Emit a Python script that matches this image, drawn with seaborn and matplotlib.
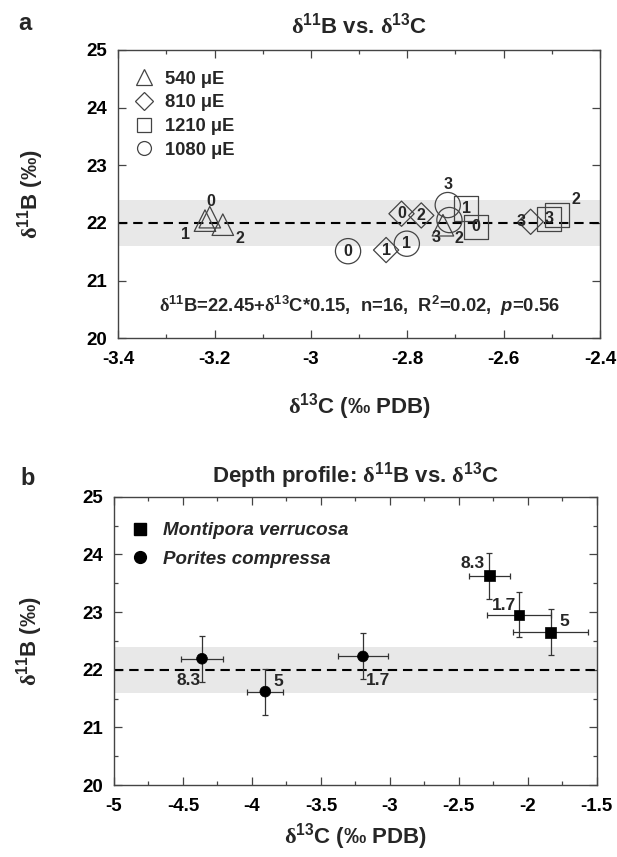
import matplotlib
matplotlib.use("Agg")
import matplotlib.pyplot as plt
from matplotlib.lines import Line2D
from matplotlib.ticker import MultipleLocator
import seaborn as sns
import pandas as pd

# ---------------- data: panel a ----------------
tri_x = [-3.21, -3.22, -3.183, -2.726]
tri_y = [22.10, 22.04, 21.97, 21.96]
dia_x = [-2.812, -2.844, -2.771, -2.544]
dia_y = [22.16, 21.53, 22.13, 22.02]
sq_x = [-2.657, -2.678, -2.49, -2.505]
sq_y = [21.93, 22.25, 22.14, 22.07]
cir_x = [-2.923, -2.801, -2.7125, -2.716]
cir_y = [21.51, 21.64, 22.05, 22.31]
point_ids = ['0', '1', '2', '3']
light_levels = ['540 μE', '810 μE', '1210 μE', '1080 μE']

# ---------------- data: panel b ----------------
mont_x = [-2.278, -2.064, -1.835]
mont_y = [23.63, 22.95, 22.65]
mont_xerr = [0.15, 0.23, 0.27]
mont_yerr = [0.40, 0.39, 0.40]
mont_depth = ['8.3', '1.7', '5']
por_x = [-4.362, -3.903, -3.195]
por_y = [22.19, 21.62, 22.23]
por_xerr = [0.15, 0.13, 0.18]
por_yerr = [0.40, 0.40, 0.40]
por_depth = ['8.3', '5', '1.7']
species = ['Montipora verrucosa', 'Porites compressa']

band_lo, band_hi, ref_line = 21.6, 22.4, 22.0
eq_text = (r'$\mathrm{\delta}^{\mathbf{11}}$B=22.45+$\mathrm{\delta}^{\mathbf{13}}$C*0.15,  '
           r'n=16,  R$^{\mathbf{2}}$=0.02,  $p$=0.56')

# ---------------- style ----------------
sns.set_theme(style="ticks")
plt.rcParams['font.family'] = ['Liberation Sans', 'DejaVu Sans']
plt.rcParams['font.weight'] = 'bold'
plt.rcParams['mathtext.fontset'] = 'custom'
plt.rcParams['mathtext.rm'] = 'Liberation Serif'
plt.rcParams['mathtext.bf'] = 'Liberation Sans:bold'
plt.rcParams['mathtext.it'] = 'Liberation Sans:bold:italic'

EDGE = '#444444'
TICK_FS = 13.5
LABEL_FS = 16
fig = plt.figure(figsize=(6.17, 8.57), dpi=100)
axa = fig.add_axes([0.1917, 0.6053, 0.7807, 0.3364])
axb = fig.add_axes([0.1848, 0.0840, 0.7823, 0.3364])

def style_axes(ax):
    for s in ax.spines.values():
        s.set_color(EDGE)
        s.set_linewidth(1.0)
    ax.tick_params(which='both', direction='in', top=True, right=True,
                   colors=EDGE, labelcolor='black', labelsize=TICK_FS, width=0.9)
    ax.tick_params(which='major', length=5.5)
    ax.tick_params(axis='x', which='major', pad=9)
    ax.tick_params(axis='y', which='major', pad=8)
    ax.tick_params(which='minor', length=3)
    for lab in ax.get_xticklabels() + ax.get_yticklabels():
        lab.set_fontweight('bold')

# ---------------- panel a ----------------
ax = axa
ax.axhspan(band_lo, band_hi, color='#e8e8e8', lw=0, zorder=0)
ax.axhline(ref_line, color='black', ls=(0, (4.5, 2.8)), lw=1.5, zorder=1)

groups = [
    (tri_x, tri_y, '^', 240),
    (dia_x, dia_y, 'D', 165),
    (sq_x, sq_y, 's', 300),
    (cir_x, cir_y, 'o', 330),
]
for (gx, gy, mk, sz), lev in zip(groups, light_levels):
    df = pd.DataFrame({'x': gx, 'y': gy})
    sns.scatterplot(data=df, x='x', y='y', marker=mk, s=sz, facecolor='none',
                    edgecolor=EDGE, linewidth=0.9, ax=ax, zorder=3, legend=False)

# point id labels (offsets in points)
lab_off = {
    0: [(0.5, 11.5), (-14, -10), (12, -10), (-5, -9)],
    1: [(0, 0), (0, 0), (0, 0), (-7, 0)],
    2: [(0, 0), (0, 0), (14, 11), (0, 0)],
    3: [(0, 0), (0, 0), (6.5, -13), (0.5, 14.5)],
}
for gi, (gx, gy, mk, sz) in enumerate(groups):
    for i, (xx, yy) in enumerate(zip(gx, gy)):
        ax.annotate(point_ids[i], (xx, yy), xytext=lab_off[gi][i],
                    textcoords='offset points', ha='center', va='center',
                    fontsize=11.5, fontweight='bold', zorder=5)

ax.set_xlim(-3.4, -2.4)
ax.set_ylim(20, 25)
ax.xaxis.set_minor_locator(MultipleLocator(0.1))
ax.set_xticks([-3.4, -3.2, -3.0, -2.8, -2.6, -2.4])
ax.set_xticklabels(['-3.4', '-3.2', '-3', '-2.8', '-2.6', '-2.4'])
ax.set_yticks([20, 21, 22, 23, 24, 25])
ax.set_yticklabels(['20', '21', '22', '23', '24', '25'])
style_axes(ax)

ax.text(0.5, 0.112, eq_text, transform=ax.transAxes, ha='center', va='center',
        fontsize=13.2, fontweight='bold')
ax.set_xlabel(r'$\mathrm{\delta}^{\mathbf{13}}$C (‰ PDB)', fontsize=LABEL_FS, fontweight='bold')
ax.set_ylabel(r'$\mathrm{\delta}^{\mathbf{11}}$B (‰)', fontsize=LABEL_FS, fontweight='bold')
ax.xaxis.set_label_coords(0.5, -0.238)
ax.xaxis.label.set_va('center')
ax.yaxis.set_label_coords(-0.183, 0.5)
ax.yaxis.label.set_va('center')
ax.set_title(r'$\mathrm{\delta}^{\mathbf{11}}$B vs. $\mathrm{\delta}^{\mathbf{13}}$C',
             fontsize=LABEL_FS, fontweight='bold', pad=12)

handles = [
    Line2D([], [], ls='none', marker='^', ms=12, mfc='none', mec=EDGE, mew=0.9),
    Line2D([], [], ls='none', marker='D', ms=9, mfc='none', mec=EDGE, mew=0.9),
    Line2D([], [], ls='none', marker='s', ms=10, mfc='none', mec=EDGE, mew=0.9),
    Line2D([], [], ls='none', marker='o', ms=10, mfc='none', mec=EDGE, mew=0.9),
]
ax.legend(handles, light_levels, loc='upper left', frameon=False,
          prop={'weight': 'bold', 'size': 13.2}, handlelength=1.0,
          handletextpad=0.65, labelspacing=0.36, borderaxespad=0.5,
          bbox_to_anchor=(0.0, 0.985))

# ---------------- panel b ----------------
ax = axb
ax.axhspan(band_lo, band_hi, color='#e8e8e8', lw=0, zorder=0)
ax.axhline(ref_line, color='black', ls=(0, (4.5, 2.8)), lw=1.5, zorder=1)

dfb = pd.DataFrame({
    'x': mont_x + por_x,
    'y': mont_y + por_y,
    'sp': [species[0]] * len(mont_x) + [species[1]] * len(por_x),
})
ax.errorbar(mont_x, mont_y, xerr=mont_xerr, yerr=mont_yerr, fmt='none',
            ecolor='#333333', elinewidth=0.9, capsize=2.5, capthick=0.9, zorder=2)
ax.errorbar(por_x, por_y, xerr=por_xerr, yerr=por_yerr, fmt='none',
            ecolor='#333333', elinewidth=0.9, capsize=2.5, capthick=0.9, zorder=2)
sns.scatterplot(data=dfb, x='x', y='y', style='sp', markers={species[0]: 's', species[1]: 'o'},
                color='black', edgecolor='black', s=60, linewidth=0.5, ax=ax,
                zorder=3, legend=False)

mont_off = [(-12, 9), (-11, 7), (10, 8)]
por_off = [(-10, -16), (9, 7), (11, -17)]
for xx, yy, t, o in zip(mont_x, mont_y, mont_depth, mont_off):
    ax.annotate(t, (xx, yy), xytext=o, textcoords='offset points', ha='center',
                va='center', fontsize=12.5, fontweight='bold')
for xx, yy, t, o in zip(por_x, por_y, por_depth, por_off):
    ax.annotate(t, (xx, yy), xytext=o, textcoords='offset points', ha='center',
                va='center', fontsize=12.5, fontweight='bold')

ax.set_xlim(-5, -1.5)
ax.set_ylim(20, 25)
ax.xaxis.set_minor_locator(MultipleLocator(0.25))
ax.yaxis.set_minor_locator(MultipleLocator(0.5))
ax.set_xticks([-5, -4.5, -4, -3.5, -3, -2.5, -2, -1.5])
ax.set_xticklabels(['-5', '-4.5', '-4', '-3.5', '-3', '-2.5', '-2', '-1.5'])
ax.set_yticks([20, 21, 22, 23, 24, 25])
ax.set_yticklabels(['20', '21', '22', '23', '24', '25'])
style_axes(ax)

ax.set_xlabel(r'$\mathrm{\delta}^{\mathbf{13}}$C (‰ PDB)', fontsize=LABEL_FS, fontweight='bold')
ax.set_ylabel(r'$\mathrm{\delta}^{\mathbf{11}}$B (‰)', fontsize=LABEL_FS, fontweight='bold')
ax.xaxis.set_label_coords(0.5, -0.178)
ax.xaxis.label.set_va('center')
ax.yaxis.set_label_coords(-0.174, 0.5)
ax.yaxis.label.set_va('center')
ax.set_title(r'Depth profile: $\mathrm{\delta}^{\mathbf{11}}$B vs. $\mathrm{\delta}^{\mathbf{13}}$C',
             fontsize=LABEL_FS, fontweight='bold', pad=10)

handles_b = [
    Line2D([], [], ls='none', marker='s', ms=8.5, mfc='black', mec='black'),
    Line2D([], [], ls='none', marker='o', ms=8.5, mfc='black', mec='black'),
]
ax.legend(handles_b, species, loc='upper left', frameon=False,
          prop={'weight': 'bold', 'style': 'italic', 'size': 13.5}, handlelength=1.0,
          handletextpad=0.7, labelspacing=0.6, borderaxespad=0.5,
          bbox_to_anchor=(0.0, 0.97))

fig.text(25 / 617, 1 - 24 / 857, 'a', fontsize=17, fontweight='bold', ha='center', va='center')
fig.text(28 / 617, 1 - 478 / 857, 'b', fontsize=17, fontweight='bold', ha='center', va='center')

fig.savefig('out.png', dpi=100)
